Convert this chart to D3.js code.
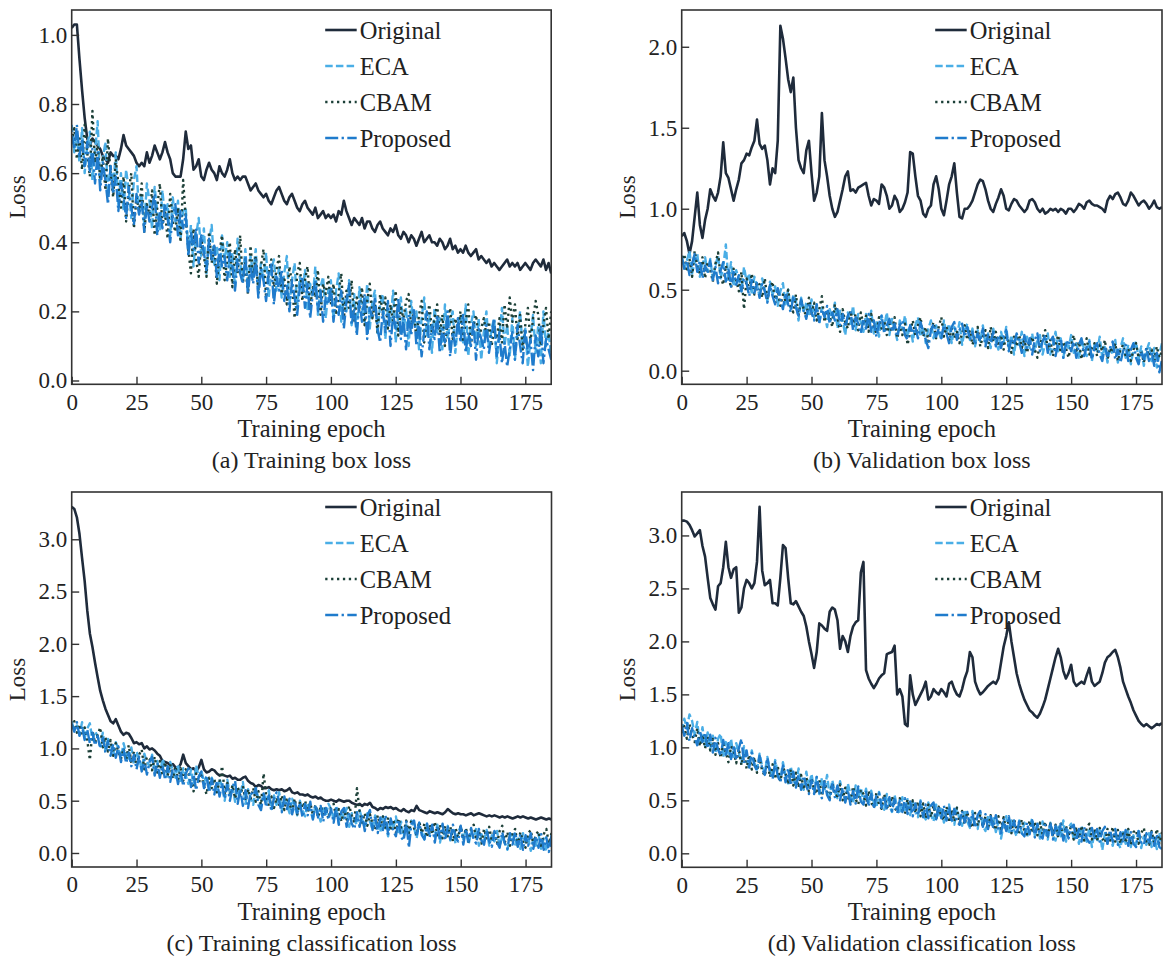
<!DOCTYPE html>
<html><head><meta charset="utf-8">
<script src="https://cdn.jsdelivr.net/npm/d3@7"></script>
<style>
body{margin:0;background:#fff;}
svg text{font-family:"Liberation Serif","Times New Roman",serif;fill:#222;}
</style>
</head><body>
<svg id="chart" width="1164" height="960"></svg>
<script>
// ---------------- DATA ----------------
const seriesNames = ["Original","ECA","CBAM","Proposed"];
const xTicks = [0,25,50,75,100,125,150,175];
const yTicksA = [0.0,0.2,0.4,0.6,0.8,1.0];
const yTicksB = [0.0,0.5,1.0,1.5,2.0];
const yTicksC = [0.0,0.5,1.0,1.5,2.0,2.5,3.0];
const yTicksD = [0.0,0.5,1.0,1.5,2.0,2.5,3.0];
const captions = ["(a) Training box loss","(b) Validation box loss","(c) Training classification loss","(d) Validation classification loss"];
const xLabel = "Training epoch";
const yLabel = "Loss";

// (a) Training box loss
const aOrig = [1.02,1.03,1.03,0.93,0.84,0.76,0.70,0.68,0.70,0.69,
0.68,0.67,0.65,0.64,0.63,0.66,0.65,0.65,0.64,0.67,
0.71,0.68,0.67,0.66,0.65,0.63,0.62,0.63,0.62,0.66,
0.63,0.65,0.68,0.66,0.64,0.66,0.69,0.66,0.64,0.60,
0.59,0.59,0.59,0.64,0.72,0.67,0.68,0.61,0.62,0.64,
0.59,0.58,0.61,0.63,0.61,0.60,0.58,0.62,0.60,0.59,
0.61,0.64,0.60,0.58,0.59,0.58,0.59,0.59,0.57,0.55,
0.56,0.57,0.55,0.54,0.53,0.54,0.52,0.51,0.53,0.55,
0.56,0.54,0.52,0.51,0.53,0.54,0.52,0.50,0.49,0.51,
0.52,0.50,0.49,0.48,0.50,0.47,0.48,0.49,0.47,0.48,
0.47,0.48,0.46,0.49,0.48,0.52,0.49,0.47,0.45,0.47,
0.46,0.45,0.47,0.44,0.46,0.46,0.44,0.43,0.45,0.46,
0.44,0.43,0.42,0.44,0.43,0.45,0.42,0.41,0.43,0.42,
0.40,0.42,0.41,0.39,0.41,0.43,0.40,0.41,0.42,0.40,
0.40,0.39,0.41,0.40,0.38,0.39,0.41,0.38,0.39,0.37,
0.38,0.37,0.39,0.37,0.36,0.37,0.38,0.35,0.36,0.35,
0.34,0.35,0.33,0.34,0.33,0.32,0.33,0.34,0.35,0.33,
0.34,0.33,0.34,0.32,0.33,0.34,0.33,0.32,0.34,0.35,
0.34,0.33,0.35,0.32,0.34,0.31];
const aECA = [0.74,0.66,0.71,0.63,0.73,0.60,0.68,0.72,0.58,0.66,
0.75,0.57,0.64,0.69,0.54,0.62,0.56,0.66,0.51,0.60,
0.49,0.61,0.55,0.47,0.58,0.62,0.48,0.54,0.45,0.57,
0.52,0.44,0.56,0.49,0.43,0.55,0.47,0.51,0.42,0.53,
0.46,0.52,0.41,0.49,0.50,0.37,0.45,0.33,0.42,0.47,
0.36,0.44,0.31,0.40,0.45,0.33,0.39,0.29,0.42,0.35,
0.40,0.30,0.37,0.27,0.41,0.34,0.29,0.38,0.26,0.36,
0.31,0.38,0.25,0.34,0.29,0.37,0.24,0.32,0.35,0.26,
0.33,0.24,0.31,0.36,0.22,0.29,0.34,0.21,0.30,0.25,
0.32,0.20,0.28,0.24,0.33,0.19,0.27,0.30,0.18,0.26,
0.29,0.18,0.26,0.31,0.17,0.24,0.20,0.29,0.16,0.25,
0.14,0.27,0.21,0.17,0.28,0.15,0.23,0.26,0.13,0.22,
0.25,0.12,0.21,0.17,0.26,0.11,0.19,0.24,0.14,0.21,
0.10,0.23,0.16,0.20,0.09,0.18,0.24,0.13,0.19,0.08,
0.21,0.14,0.18,0.09,0.22,0.12,0.17,0.20,0.08,0.16,
0.19,0.11,0.22,0.07,0.16,0.20,0.10,0.18,0.06,0.14,
0.20,0.09,0.15,0.18,0.05,0.13,0.21,0.10,0.16,0.07,
0.18,0.06,0.14,0.20,0.09,0.15,0.04,0.12,0.19,0.08,
0.16,0.05,0.20,0.10,0.14,0.07];
const aCBAM = [0.69,0.73,0.64,0.70,0.61,0.74,0.66,0.59,0.78,0.63,
0.68,0.58,0.65,0.55,0.70,0.60,0.53,0.64,0.57,0.50,
0.59,0.46,0.55,0.60,0.44,0.53,0.49,0.57,0.43,0.51,
0.48,0.55,0.42,0.50,0.57,0.45,0.49,0.41,0.54,0.46,
0.43,0.50,0.40,0.58,0.47,0.38,0.31,0.44,0.35,0.30,
0.41,0.36,0.30,0.43,0.34,0.39,0.28,0.37,0.42,0.29,
0.35,0.40,0.27,0.38,0.31,0.42,0.28,0.34,0.25,0.39,
0.30,0.36,0.26,0.33,0.38,0.24,0.31,0.35,0.27,0.32,
0.36,0.25,0.30,0.22,0.33,0.28,0.18,0.31,0.34,0.23,
0.29,0.33,0.21,0.27,0.24,0.32,0.19,0.28,0.25,0.30,
0.22,0.28,0.19,0.25,0.31,0.18,0.26,0.21,0.29,0.17,
0.24,0.20,0.27,0.16,0.23,0.28,0.18,0.22,0.14,0.25,
0.19,0.24,0.15,0.22,0.17,0.26,0.13,0.21,0.18,0.23,
0.25,0.15,0.20,0.12,0.19,0.23,0.11,0.18,0.22,0.14,
0.18,0.22,0.13,0.19,0.10,0.17,0.21,0.12,0.18,0.15,
0.20,0.11,0.17,0.22,0.10,0.16,0.19,0.12,0.15,0.18,
0.13,0.17,0.10,0.15,0.12,0.18,0.11,0.22,0.15,0.24,
0.17,0.22,0.12,0.19,0.09,0.16,0.21,0.11,0.18,0.23,
0.19,0.10,0.16,0.21,0.12,0.20];
const aProp = [0.71,0.67,0.74,0.65,0.70,0.62,0.69,0.60,0.67,0.57,
0.66,0.55,0.63,0.58,0.51,0.62,0.54,0.59,0.49,0.57,
0.53,0.47,0.56,0.50,0.45,0.54,0.48,0.52,0.43,0.51,
0.46,0.50,0.54,0.42,0.49,0.44,0.51,0.47,0.40,0.48,
0.51,0.42,0.49,0.44,0.48,0.36,0.43,0.38,0.44,0.34,
0.42,0.37,0.32,0.41,0.35,0.39,0.30,0.38,0.33,0.36,
0.29,0.37,0.33,0.26,0.35,0.31,0.28,0.36,0.25,0.33,
0.28,0.35,0.24,0.32,0.29,0.23,0.31,0.34,0.22,0.30,
0.26,0.32,0.23,0.28,0.20,0.29,0.24,0.19,0.27,0.30,
0.21,0.28,0.18,0.25,0.29,0.20,0.26,0.17,0.24,0.22,
0.27,0.17,0.24,0.19,0.26,0.15,0.23,0.28,0.16,0.21,
0.13,0.23,0.17,0.25,0.12,0.21,0.18,0.24,0.15,0.11,
0.20,0.14,0.23,0.10,0.19,0.15,0.24,0.12,0.18,0.09,
0.19,0.13,0.21,0.10,0.17,0.07,0.14,0.20,0.09,0.16,
0.12,0.19,0.08,0.15,0.11,0.20,0.07,0.14,0.10,0.18,
0.11,0.19,0.08,0.14,0.10,0.17,0.06,0.15,0.12,0.09,
0.16,0.08,0.13,0.18,0.07,0.14,0.05,0.11,0.04,0.09,
0.14,0.06,0.16,0.10,0.05,0.15,0.08,0.12,0.03,0.13,
0.07,0.16,0.05,0.12,0.09,0.06];

// (b) Validation box loss
const bOrig = [0.83,0.85,0.80,0.72,0.80,0.95,1.10,0.90,0.82,0.93,
1.00,1.12,1.08,1.05,1.10,1.20,1.41,1.22,1.19,1.12,
1.05,1.12,1.18,1.28,1.30,1.34,1.33,1.38,1.42,1.55,
1.40,1.37,1.39,1.30,1.15,1.25,1.22,1.42,2.13,2.05,
1.93,1.80,1.72,1.81,1.50,1.30,1.25,1.22,1.36,1.42,
1.22,1.05,1.10,1.20,1.59,1.30,1.20,1.08,1.00,0.95,
0.98,1.05,1.12,1.20,1.23,1.11,1.12,1.10,1.13,1.14,
1.15,1.16,1.08,1.02,1.06,1.05,1.03,1.15,1.13,1.08,
1.00,1.02,1.08,1.05,0.98,1.00,1.04,1.10,1.35,1.34,
1.20,1.08,1.05,0.97,0.95,1.00,1.02,1.15,1.20,1.12,
1.00,0.96,1.05,1.15,1.20,1.28,1.10,0.95,0.94,1.00,
1.00,1.02,1.05,1.10,1.15,1.18,1.17,1.12,1.05,1.00,
0.98,1.03,1.07,1.12,1.08,1.00,0.99,1.03,1.06,1.05,
1.02,1.00,0.98,1.00,1.05,1.06,1.04,1.00,0.98,1.00,
0.97,0.98,1.00,0.99,1.00,0.98,1.00,0.99,0.97,1.00,
1.00,0.98,1.00,1.03,1.02,1.00,1.04,1.05,1.03,1.02,
1.02,1.01,1.00,0.98,1.05,1.08,1.06,1.09,1.10,1.07,
1.03,1.02,1.05,1.10,1.08,1.05,1.02,1.04,1.05,1.03,
1.00,1.02,1.05,1.01,1.00,1.01];
const bECA = [0.71,0.63,0.68,0.74,0.60,0.67,0.72,0.58,0.66,0.70,
0.61,0.69,0.56,0.65,0.71,0.57,0.64,0.78,0.55,0.67,
0.52,0.62,0.57,0.49,0.64,0.55,0.60,0.47,0.58,0.53,
0.46,0.57,0.50,0.43,0.55,0.47,0.52,0.40,0.49,0.54,
0.41,0.50,0.38,0.47,0.43,0.31,0.45,0.36,0.42,0.34,
0.44,0.33,0.40,0.29,0.39,0.35,0.27,0.38,0.32,0.42,
0.26,0.37,0.31,0.22,0.36,0.29,0.40,0.25,0.35,0.30,
0.24,0.35,0.28,0.37,0.23,0.31,0.21,0.34,0.27,0.36,
0.22,0.32,0.26,0.19,0.31,0.25,0.34,0.21,0.29,0.18,
0.28,0.33,0.21,0.27,0.17,0.26,0.31,0.20,0.28,0.24,
0.19,0.31,0.23,0.29,0.17,0.27,0.21,0.30,0.16,0.25,
0.29,0.19,0.26,0.15,0.25,0.18,0.28,0.16,0.23,0.14,
0.26,0.18,0.13,0.24,0.17,0.27,0.14,0.22,0.10,0.21,
0.16,0.24,0.09,0.21,0.14,0.23,0.12,0.19,0.22,0.10,
0.17,0.23,0.10,0.16,0.24,0.12,0.20,0.08,0.18,0.14,
0.22,0.11,0.17,0.07,0.20,0.13,0.09,0.19,0.06,0.16,
0.12,0.21,0.08,0.16,0.05,0.15,0.10,0.19,0.05,0.14,
0.20,0.08,0.16,0.04,0.13,0.18,0.07,0.15,0.03,0.12,
0.17,0.06,0.14,0.02,0.10,0.17];
const bCBAM = [0.66,0.72,0.61,0.69,0.58,0.74,0.64,0.60,0.70,0.57,
0.67,0.62,0.55,0.66,0.73,0.58,0.53,0.65,0.59,0.51,
0.63,0.56,0.49,0.61,0.38,0.57,0.50,0.60,0.47,0.55,
0.53,0.45,0.57,0.44,0.51,0.55,0.42,0.50,0.40,0.47,
0.43,0.50,0.39,0.36,0.47,0.34,0.44,0.38,0.33,0.45,
0.35,0.42,0.31,0.38,0.46,0.30,0.37,0.34,0.27,0.41,
0.33,0.24,0.38,0.30,0.26,0.37,0.29,0.35,0.25,0.36,
0.28,0.34,0.24,0.35,0.27,0.23,0.33,0.26,0.31,0.22,
0.29,0.24,0.33,0.20,0.27,0.22,0.29,0.16,0.24,0.31,
0.22,0.28,0.33,0.21,0.27,0.18,0.25,0.30,0.20,0.27,
0.33,0.21,0.27,0.19,0.26,0.20,0.24,0.17,0.23,0.28,
0.19,0.25,0.16,0.22,0.27,0.15,0.21,0.25,0.14,0.27,
0.18,0.24,0.15,0.22,0.13,0.23,0.17,0.11,0.21,0.15,
0.22,0.14,0.19,0.11,0.18,0.21,0.13,0.08,0.17,0.20,
0.25,0.13,0.19,0.09,0.16,0.22,0.11,0.18,0.14,0.08,
0.16,0.22,0.11,0.18,0.07,0.15,0.20,0.10,0.14,0.17,
0.09,0.16,0.12,0.19,0.07,0.14,0.11,0.17,0.06,0.13,
0.16,0.09,0.14,0.06,0.13,0.17,0.08,0.12,0.05,0.14,
0.09,0.13,0.06,0.15,0.08,0.12];
const bProp = [0.70,0.63,0.68,0.59,0.66,0.72,0.61,0.68,0.57,0.65,
0.60,0.68,0.56,0.64,0.54,0.62,0.67,0.55,0.63,0.52,
0.61,0.53,0.59,0.49,0.57,0.54,0.46,0.56,0.48,0.54,
0.45,0.54,0.49,0.42,0.53,0.46,0.41,0.51,0.44,0.38,
0.48,0.41,0.36,0.46,0.39,0.34,0.44,0.37,0.32,0.42,
0.36,0.31,0.41,0.30,0.38,0.33,0.40,0.29,0.36,0.31,
0.38,0.28,0.35,0.27,0.34,0.37,0.25,0.33,0.29,0.23,
0.32,0.26,0.35,0.24,0.31,0.21,0.29,0.34,0.23,0.28,
0.32,0.24,0.29,0.21,0.28,0.31,0.22,0.19,0.28,0.23,
0.27,0.20,0.30,0.24,0.19,0.14,0.25,0.29,0.21,0.26,
0.20,0.28,0.23,0.17,0.27,0.30,0.19,0.25,0.29,0.21,
0.27,0.19,0.24,0.16,0.23,0.18,0.26,0.15,0.22,0.17,
0.24,0.15,0.22,0.14,0.21,0.25,0.12,0.20,0.16,0.23,
0.18,0.11,0.22,0.14,0.20,0.10,0.19,0.23,0.12,0.18,
0.22,0.11,0.18,0.21,0.09,0.17,0.20,0.08,0.16,0.19,
0.12,0.18,0.08,0.16,0.20,0.09,0.15,0.18,0.07,0.14,
0.17,0.10,0.06,0.15,0.09,0.14,0.18,0.07,0.13,0.05,
0.12,0.16,0.06,0.13,0.17,0.08,0.04,0.12,0.07,0.14,
0.06,0.12,0.03,0.11,-0.01,0.07];

// (c) Training classification loss
const cOrig = [3.31,3.29,3.21,3.05,2.82,2.60,2.32,2.10,1.97,1.82,
1.68,1.55,1.46,1.38,1.32,1.26,1.24,1.28,1.22,1.16,
1.13,1.15,1.14,1.10,1.05,1.06,1.04,1.05,1.00,1.02,
0.99,1.00,0.98,0.95,0.93,0.88,0.87,0.86,0.84,0.85,
0.82,0.81,0.85,0.94,0.86,0.83,0.80,0.81,0.78,0.82,
0.89,0.80,0.77,0.78,0.80,0.79,0.76,0.74,0.75,0.74,
0.73,0.74,0.71,0.72,0.70,0.70,0.72,0.73,0.69,0.67,
0.66,0.63,0.65,0.64,0.62,0.62,0.63,0.61,0.60,0.61,
0.60,0.61,0.59,0.60,0.62,0.58,0.57,0.58,0.56,0.56,
0.55,0.56,0.54,0.53,0.54,0.52,0.53,0.51,0.50,0.50,
0.51,0.50,0.49,0.51,0.50,0.49,0.50,0.50,0.48,0.47,
0.46,0.47,0.45,0.47,0.46,0.48,0.44,0.43,0.41,0.43,
0.42,0.44,0.43,0.44,0.42,0.43,0.41,0.40,0.42,0.40,
0.39,0.41,0.40,0.45,0.41,0.40,0.39,0.38,0.40,0.39,
0.38,0.39,0.38,0.37,0.39,0.42,0.40,0.38,0.37,0.38,
0.37,0.37,0.36,0.37,0.38,0.36,0.37,0.38,0.37,0.36,
0.35,0.36,0.35,0.36,0.35,0.34,0.35,0.34,0.35,0.34,
0.33,0.34,0.35,0.34,0.35,0.34,0.33,0.34,0.33,0.32,
0.33,0.34,0.33,0.32,0.33,0.32];
const cECA = [1.26,1.17,1.22,1.13,1.25,1.10,1.19,1.24,1.08,1.16,
1.12,1.02,1.15,0.98,1.09,1.05,0.94,1.06,1.00,0.91,
1.05,0.95,0.88,1.01,0.85,0.97,0.90,0.80,0.95,0.87,
0.83,0.94,0.78,0.88,0.75,0.90,0.82,0.73,0.87,0.79,
0.72,0.85,0.69,0.81,0.74,0.66,0.80,0.65,0.84,0.72,
0.79,0.67,0.74,0.61,0.72,0.66,0.58,0.71,0.63,0.50,
0.70,0.57,0.64,0.49,0.63,0.55,0.68,0.47,0.61,0.53,
0.46,0.62,0.52,0.44,0.58,0.47,0.60,0.42,0.55,0.46,
0.58,0.41,0.52,0.46,0.38,0.52,0.44,0.36,0.50,0.41,
0.35,0.48,0.40,0.33,0.46,0.38,0.30,0.45,0.35,0.47,
0.42,0.32,0.45,0.28,0.40,0.33,0.43,0.25,0.38,0.31,
0.27,0.41,0.32,0.24,0.38,0.30,0.22,0.36,0.28,0.20,
0.35,0.26,0.16,0.32,0.23,0.35,0.20,0.30,0.15,0.27,
0.19,0.31,0.24,0.14,0.29,0.20,0.13,0.28,0.18,0.24,
0.15,0.27,0.10,0.22,0.15,0.26,0.12,0.22,0.09,0.20,
0.25,0.13,0.22,0.08,0.20,0.14,0.24,0.07,0.18,0.12,
0.22,0.07,0.17,0.11,0.21,0.06,0.16,0.10,0.03,0.15,
0.20,0.08,0.16,0.04,0.19,0.10,0.15,0.02,0.13,0.07,
0.18,0.04,0.14,0.02,0.12,0.06];
const cCBAM = [1.20,1.26,1.15,1.23,1.12,1.20,1.08,0.89,1.17,1.05,
1.13,1.20,1.01,1.11,0.97,1.08,0.93,1.05,0.97,0.90,
1.00,0.89,1.03,0.86,0.97,0.83,0.94,0.99,0.80,0.92,
0.90,0.79,0.92,0.77,0.88,0.75,0.87,0.74,0.85,0.71,
0.83,0.70,0.81,0.69,0.80,0.76,0.66,0.59,0.76,0.67,
0.74,0.64,0.56,0.72,0.62,0.71,0.58,0.69,0.83,0.57,
0.67,0.54,0.65,0.52,0.63,0.55,0.64,0.50,0.61,0.52,
0.62,0.49,0.59,0.46,0.76,0.55,0.45,0.54,0.43,0.53,
0.46,0.55,0.41,0.53,0.47,0.39,0.52,0.37,0.49,0.43,
0.50,0.39,0.48,0.36,0.46,0.34,0.45,0.37,0.44,0.33,
0.43,0.47,0.33,0.42,0.30,0.41,0.32,0.45,0.36,0.29,
0.62,0.40,0.29,0.38,0.26,0.37,0.28,0.22,0.36,0.25,
0.35,0.23,0.34,0.21,0.32,0.19,0.33,0.24,0.20,0.31,
0.19,0.32,0.24,0.17,0.30,0.19,0.28,0.15,0.27,0.18,
0.30,0.17,0.27,0.14,0.26,0.16,0.25,0.11,0.24,0.15,
0.26,0.13,0.24,0.11,0.23,0.27,0.12,0.22,0.09,0.23,
0.14,0.25,0.11,0.22,0.09,0.21,0.26,0.10,0.20,0.07,
0.19,0.23,0.07,0.20,0.11,0.05,0.19,0.22,0.08,0.18,
0.21,0.07,0.18,0.23,0.09,0.19];
const cProp = [1.23,1.16,1.25,1.12,1.21,1.08,1.18,1.05,1.15,1.03,
1.12,1.00,1.10,0.96,1.07,0.93,1.04,0.91,1.02,0.87,
0.99,0.86,0.96,0.83,0.94,0.80,0.92,0.78,0.89,0.75,
0.87,0.92,0.74,0.86,0.72,0.84,0.70,0.83,0.68,0.81,
0.79,0.66,0.78,0.64,0.76,0.81,0.63,0.75,0.60,0.73,
0.78,0.62,0.74,0.58,0.71,0.56,0.69,0.54,0.67,0.52,
0.65,0.50,0.63,0.69,0.47,0.61,0.45,0.60,0.43,0.58,
0.55,0.62,0.46,0.41,0.57,0.44,0.55,0.40,0.53,0.58,
0.49,0.39,0.54,0.42,0.52,0.37,0.50,0.38,0.48,0.34,
0.47,0.36,0.49,0.32,0.46,0.34,0.45,0.30,0.43,0.32,
0.42,0.29,0.44,0.27,0.40,0.43,0.25,0.39,0.28,0.23,
0.39,0.25,0.37,0.21,0.36,0.41,0.22,0.35,0.19,0.34,
0.22,0.36,0.18,0.33,0.21,0.16,0.32,0.15,0.12,0.30,
0.05,0.28,0.31,0.16,0.29,0.17,0.13,0.28,0.15,0.27,
0.10,0.26,0.14,0.28,0.12,0.25,0.13,0.27,0.15,0.11,
0.26,0.08,0.23,0.11,0.24,0.13,0.09,0.23,0.12,0.08,
0.22,0.11,0.06,0.21,0.10,0.05,0.20,0.09,0.04,0.19,
0.08,0.20,0.06,0.18,0.03,0.17,0.07,0.19,0.04,0.16,
0.05,0.18,0.03,0.15,0.01,0.17];

// (d) Validation classification loss
const dOrig = [3.14,3.14,3.13,3.10,3.05,2.99,3.02,3.05,2.90,2.80,
2.60,2.41,2.35,2.30,2.52,2.55,2.70,2.94,2.70,2.60,
2.68,2.70,2.27,2.32,2.50,2.58,2.55,2.50,2.55,2.75,
3.27,2.67,2.53,2.55,2.58,2.36,2.36,2.34,2.60,2.91,
2.88,2.60,2.36,2.35,2.38,2.33,2.28,2.24,2.14,2.00,
1.88,1.75,1.90,2.17,2.15,2.12,2.10,2.28,2.32,2.30,
2.20,1.93,2.05,2.00,1.90,2.05,2.14,2.18,2.20,2.65,
2.75,1.73,1.65,1.60,1.56,1.60,1.65,1.68,1.70,1.88,
1.89,1.90,1.96,1.50,1.55,1.48,1.22,1.20,1.68,1.50,
1.40,1.45,1.50,1.55,1.62,1.45,1.48,1.55,1.52,1.50,
1.55,1.52,1.48,1.60,1.62,1.55,1.50,1.48,1.55,1.65,
1.72,1.90,1.85,1.62,1.55,1.50,1.52,1.55,1.58,1.60,
1.62,1.60,1.65,1.80,1.95,2.05,2.18,2.00,1.85,1.70,
1.60,1.52,1.45,1.40,1.35,1.33,1.30,1.28,1.32,1.38,
1.45,1.55,1.65,1.75,1.85,1.93,1.85,1.72,1.65,1.70,
1.78,1.62,1.58,1.60,1.62,1.60,1.68,1.75,1.62,1.58,
1.60,1.62,1.70,1.80,1.85,1.87,1.90,1.92,1.85,1.75,
1.62,1.55,1.48,1.42,1.35,1.30,1.25,1.22,1.20,1.22,
1.20,1.18,1.20,1.22,1.21,1.23];
const dECA = [1.15,1.27,1.18,1.31,1.25,1.12,1.24,1.03,1.19,1.01,
1.14,0.98,1.11,0.95,1.08,1.13,0.91,1.05,0.94,1.08,
0.90,1.04,0.95,0.85,1.01,0.88,0.81,0.97,0.85,0.79,
0.94,0.82,0.76,0.91,0.79,0.72,0.88,0.76,0.69,0.86,
0.73,0.66,0.82,0.70,0.63,0.80,0.67,0.60,0.77,0.63,
0.75,0.60,0.72,0.56,0.71,0.59,0.74,0.54,0.69,0.58,
0.52,0.68,0.57,0.49,0.66,0.55,0.47,0.64,0.52,0.62,
0.49,0.61,0.46,0.59,0.48,0.43,0.58,0.47,0.41,0.56,
0.45,0.39,0.55,0.43,0.37,0.53,0.41,0.51,0.36,0.49,
0.39,0.34,0.50,0.37,0.32,0.48,0.36,0.30,0.46,0.34,
0.44,0.29,0.38,0.46,0.31,0.27,0.43,0.32,0.26,0.41,
0.30,0.24,0.40,0.28,0.23,0.38,0.26,0.21,0.36,0.25,
0.35,0.20,0.30,0.14,0.27,0.35,0.18,0.31,0.22,0.16,
0.31,0.19,0.29,0.15,0.25,0.33,0.17,0.27,0.14,0.30,
0.20,0.13,0.29,0.17,0.12,0.27,0.16,0.31,0.11,0.24,
0.28,0.12,0.22,0.09,0.26,0.15,0.11,0.24,0.06,0.20,
0.11,0.22,0.03,0.19,0.09,0.21,0.07,0.18,0.10,0.05,
0.20,0.09,0.22,0.06,0.17,0.08,0.21,0.05,0.16,0.08,
0.19,0.06,0.15,0.04,0.18,0.09];
const dCBAM = [1.14,1.20,1.08,1.22,1.12,1.05,1.18,1.01,1.12,0.99,
1.10,0.97,1.08,0.93,1.04,0.90,1.03,0.95,0.86,1.01,
0.97,0.85,0.99,0.83,0.95,0.80,0.93,0.79,0.91,0.76,
0.89,0.78,0.73,0.87,0.72,0.84,0.70,0.82,0.68,0.81,
0.76,0.65,0.79,0.64,0.76,0.62,0.74,0.60,0.72,0.58,
0.71,0.60,0.56,0.69,0.54,0.68,0.58,0.52,0.66,0.55,
0.54,0.65,0.50,0.62,0.53,0.48,0.63,0.51,0.46,0.60,
0.56,0.45,0.59,0.48,0.43,0.57,0.46,0.42,0.56,0.44,
0.42,0.54,0.43,0.39,0.52,0.41,0.37,0.51,0.40,0.50,
0.38,0.49,0.35,0.47,0.33,0.46,0.34,0.45,0.32,0.44,
0.35,0.31,0.44,0.29,0.41,0.30,0.43,0.28,0.40,0.27,
0.39,0.28,0.24,0.38,0.26,0.37,0.25,0.35,0.23,0.36,
0.26,0.22,0.35,0.23,0.34,0.21,0.32,0.19,0.33,0.22,
0.20,0.32,0.21,0.18,0.31,0.19,0.30,0.17,0.29,0.18,
0.30,0.16,0.28,0.17,0.27,0.15,0.29,0.14,0.26,0.16,
0.27,0.13,0.25,0.14,0.26,0.12,0.24,0.28,0.13,0.23,
0.12,0.24,0.14,0.10,0.23,0.12,0.25,0.11,0.22,0.09,
0.21,0.10,0.23,0.08,0.20,0.22,0.09,0.19,0.24,0.10,
0.08,0.21,0.10,0.23,0.09,0.20];
const dProp = [1.20,1.11,1.23,1.06,1.18,1.09,1.02,1.16,1.05,1.14,
0.99,1.12,0.95,1.09,0.98,0.92,1.07,0.93,1.04,0.89,
1.02,0.88,0.99,1.08,0.85,0.97,0.81,0.95,0.83,0.78,
0.92,0.80,0.74,0.90,0.76,0.70,0.86,0.73,0.67,0.83,
0.67,0.80,0.64,0.77,0.62,0.74,0.60,0.73,0.64,0.56,
0.69,0.56,0.72,0.58,0.52,0.68,0.55,0.50,0.65,0.53,
0.64,0.50,0.62,0.48,0.60,0.46,0.59,0.47,0.63,0.49,
0.46,0.58,0.44,0.56,0.42,0.55,0.57,0.43,0.54,0.41,
0.53,0.40,0.51,0.38,0.50,0.39,0.52,0.37,0.49,0.35,
0.47,0.36,0.49,0.34,0.46,0.33,0.45,0.48,0.32,0.44,
0.33,0.45,0.31,0.43,0.29,0.42,0.30,0.27,0.40,0.29,
0.39,0.26,0.38,0.24,0.36,0.40,0.25,0.37,0.23,0.35,
0.24,0.36,0.22,0.19,0.33,0.21,0.35,0.20,0.31,0.18,
0.30,0.19,0.16,0.29,0.18,0.31,0.15,0.28,0.17,0.14,
0.27,0.16,0.29,0.13,0.26,0.15,0.28,0.12,0.25,0.14,
0.24,0.27,0.12,0.23,0.11,0.25,0.14,0.10,0.24,0.13,
0.23,0.11,0.21,0.25,0.09,0.22,0.11,0.23,0.08,0.20,
0.10,0.22,0.07,0.20,0.09,0.06,0.21,0.10,0.08,0.19,
0.09,0.20,0.07,0.18,0.06,0.04];

// ---------------- LAYOUT / STYLE ----------------
const panels = [
  {left:71.7, top:10, right:551.2, bottom:384.3, yDom:[-0.011,1.072], ticks:yTicksA, data:[aOrig,aECA,aCBAM,aProp], legendTop:30, cap:captions[0]},
  {left:681.7, top:10, right:1162, bottom:384.3, yDom:[-0.084,2.227], ticks:yTicksB, data:[bOrig,bECA,bCBAM,bProp], legendTop:30, cap:captions[1]},
  {left:71.7, top:492, right:551.5, bottom:867, yDom:[-0.134,3.452], ticks:yTicksC, data:[cOrig,cECA,cCBAM,cProp], legendTop:507, cap:captions[2]},
  {left:681.7, top:492, right:1162, bottom:867.3, yDom:[-0.132,3.41], ticks:yTicksD, data:[dOrig,dECA,dCBAM,dProp], legendTop:507, cap:captions[3]}
];
const styles = [
  {color:"#1f2b3b", width:2.6, dash:null},
  {color:"#4aaee6", width:2.4, dash:"7.5,3.2"},
  {color:"#1b3f37", width:2.4, dash:"2.3,3.6"},
  {color:"#1f7bcc", width:2.4, dash:"13,3.4,2.3,3.4"}
];
const axisColor = "#333";

const svg = d3.select("#chart");
svg.append("rect").attr("width",1164).attr("height",960).attr("fill","#fff");

panels.forEach((p, pi) => {
  const x = d3.scaleLinear().domain([0,185]).range([p.left, p.right]);
  const y = d3.scaleLinear().domain(p.yDom).range([p.bottom, p.top]);
  const g = svg.append("g");
  const clipId = "clip"+pi;
  svg.append("clipPath").attr("id",clipId).append("rect")
    .attr("x",p.left).attr("y",p.top).attr("width",p.right-p.left).attr("height",p.bottom-p.top);

  const lines = g.append("g").attr("clip-path","url(#"+clipId+")");
  const line = d3.line().x((d,i)=>x(i)).y(d=>y(d));
  p.data.forEach((arr, si) => {
    const st = styles[si];
    lines.append("path").datum(arr)
      .attr("d", line)
      .attr("fill","none")
      .attr("stroke", st.color)
      .attr("stroke-width", st.width)
      .attr("stroke-linejoin","round")
      .attr("stroke-dasharray", st.dash);
  });

  // axes (ticks inward)
  const xAxis = d3.axisBottom(x).tickValues(xTicks).tickSize(-7.5).tickPadding(9).tickFormat(d3.format("d"));
  const gx = g.append("g").attr("transform","translate(0,"+p.bottom+")").call(xAxis);
  const yAxis = d3.axisLeft(y).tickValues(p.ticks).tickSize(-7.5).tickPadding(4.5).tickFormat(d3.format(".1f"));
  const gy = g.append("g").attr("transform","translate("+p.left+",0)").call(yAxis);
  [gx,gy].forEach(a=>{
    a.select(".domain").remove();
    a.selectAll(".tick line").attr("stroke",axisColor).attr("stroke-width",1.4);
    a.selectAll(".tick text").attr("fill","#222").style("font-size","23px").style("font-family",'"Liberation Serif",serif');
  });

  // frame
  g.append("rect").attr("x",p.left).attr("y",p.top).attr("width",p.right-p.left).attr("height",p.bottom-p.top)
    .attr("fill","none").attr("stroke",axisColor).attr("stroke-width",1.6);

  // labels
  const cx = (p.left+p.right)/2;
  g.append("text").attr("x",cx).attr("y",p.bottom+53).attr("text-anchor","middle")
    .style("font-size","24.5px").text(xLabel);
  g.append("text").attr("transform","translate("+(p.left-47)+","+((p.top+p.bottom)/2)+") rotate(-90)")
    .attr("text-anchor","middle").style("font-size","23px").text(yLabel);
  g.append("text").attr("x",cx).attr("y",p.bottom+84).attr("text-anchor","middle")
    .style("font-size","24px").text(p.cap);

  // legend
  const lg = g.append("g");
  seriesNames.forEach((name, si) => {
    const yy = p.legendTop + si*36;
    const st = styles[si];
    lg.append("line").attr("x1",p.left+253.5).attr("x2",p.left+285).attr("y1",yy).attr("y2",yy)
      .attr("stroke",st.color).attr("stroke-width",st.width).attr("stroke-dasharray",st.dash);
    lg.append("text").attr("x",p.left+288).attr("y",yy).attr("dy","0.35em")
      .style("font-size","24.5px").text(name);
  });
});
</script>
</body></html>
